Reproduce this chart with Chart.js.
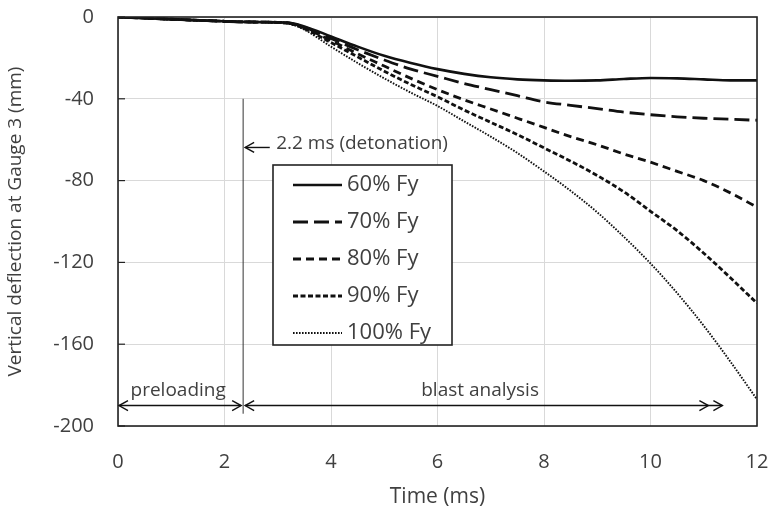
<!DOCTYPE html>
<html>
<head>
<meta charset="utf-8">
<script src="https://cdn.jsdelivr.net/npm/chart.js@4.4.0/dist/chart.umd.min.js"></script>
<style>
  body { margin: 0; background: #fff; }
</style>
</head>
<body>
<canvas id="deflChart" width="769" height="514"></canvas>
<script>
// DATA - vertical deflection at gauge 3 vs time

const time  = [0, 1, 2, 2.35, 3, 3.25, 3.5, 4, 4.5, 5, 5.5, 6, 6.5, 7, 7.5, 8, 8.5, 9, 9.5, 10, 10.5, 11, 11.5, 12];
const fy60  = [0, -1.1, -2.1, -2.4, -2.6, -3.0, -4.6, -9.5, -14.5, -19, -22.5, -25.5, -27.8, -29.5, -30.5, -31, -31.2, -31, -30.3, -29.8, -30, -30.5, -31, -31];
const fy70  = [0, -1.1, -2.1, -2.4, -2.6, -3.1, -5.0, -10.5, -16, -21, -25.5, -29, -32.5, -35.5, -38.5, -41.5, -43.2, -44.8, -46.5, -47.8, -48.8, -49.5, -50, -50.5];
const fy80  = [0, -1.1, -2.1, -2.4, -2.6, -3.2, -5.4, -11.5, -18, -24, -30, -35.5, -40.5, -45, -49.5, -54, -58.5, -62.5, -67, -71, -75.5, -80, -86, -93];
const fy90  = [0, -1.1, -2.1, -2.4, -2.7, -3.3, -5.7, -12.5, -19.5, -26.5, -33, -39, -45.5, -51.5, -57.5, -64, -70.5, -77.5, -85.5, -95, -104.5, -115.5, -127.5, -140];
const fy100 = [0, -1.2, -2.2, -2.5, -2.8, -3.6, -6.2, -14.5, -22.5, -30, -37, -43.5, -51, -58.5, -66.5, -75.5, -85, -95.5, -107.5, -120.5, -135, -151, -168.5, -187];

const seriesLabels = ['60% Fy', '70% Fy', '80% Fy', '90% Fy', '100% Fy'];
const xTicks = [0, 2, 4, 6, 8, 10, 12];
const yTicks = [0, -40, -80, -120, -160, -200];

const detonationTime = 2.35;   // where the marker line sits on the time axis
const blastEnd = 11.35;

const FONT = '"Open Sans", Lato, sans-serif';
const TXT = '#404040';

function pts(ys) {
    return time.map(function(t, i) { return {x: t, y: ys[i]}; });
}

var lineStyles = [
    {dash: [], width: 2.6},
    {dash: [15, 6], width: 2.8},
    {dash: [8, 5], width: 2.8},
    {dash: [5, 2.5], width: 2.8},
    {dash: [1.6, 1.4], width: 1.9}
];

var datasets = [fy60, fy70, fy80, fy90, fy100].map(function(ys, i) {
    return {
        label: seriesLabels[i],
        data: pts(ys),
        borderColor: '#111',
        borderWidth: lineStyles[i].width,
        borderDash: lineStyles[i].dash,
        pointRadius: 0,
        cubicInterpolationMode: 'monotone',
        fill: false
    };
});

// arrow helpers
function head(ctx, x, y, dir) {
    ctx.beginPath();
    ctx.moveTo(x - dir * 9, y - 5);
    ctx.lineTo(x, y);
    ctx.lineTo(x - dir * 9, y + 5);
    ctx.stroke();
}

// frame, inner y ticks, legend box, annotations
var extrasPlugin = {
    id: 'extras',
    afterDatasetsDraw: function(chart) {
        var ctx = chart.ctx;
        var a = chart.chartArea;
        var xs = chart.scales.x, ys = chart.scales.y;
        ctx.save();

        // plot frame
        ctx.strokeStyle = '#222';
        ctx.lineWidth = 1.6;
        ctx.strokeRect(a.left, a.top, a.right - a.left, a.bottom - a.top);

        ctx.lineWidth = 1.2;
        yTicks.forEach(function(v) {
            var py = ys.getPixelForValue(v);
            ctx.beginPath();
            ctx.moveTo(a.left, py);
            ctx.lineTo(a.left + 7, py);
            ctx.stroke();
        });

        // detonation marker
        var dx = xs.getPixelForValue(detonationTime);
        ctx.strokeStyle = '#333';
        ctx.lineWidth = 1;
        ctx.beginPath();
        ctx.moveTo(dx, ys.getPixelForValue(-40));
        ctx.lineTo(dx, ys.getPixelForValue(-194));
        ctx.stroke();

        ctx.strokeStyle = '#111';
        ctx.lineWidth = 1.4;
        var ay = ys.getPixelForValue(-63.8);
        var ax2 = xs.getPixelForValue(2.85);
        ctx.beginPath();
        ctx.moveTo(dx + 2, ay);
        ctx.lineTo(ax2, ay);
        ctx.stroke();
        head(ctx, dx + 2, ay, -1);

        ctx.fillStyle = TXT;
        ctx.font = '19px ' + FONT;
        ctx.textAlign = 'left';
        ctx.textBaseline = 'middle';
        ctx.fillText('2.2 ms (detonation)', xs.getPixelForValue(2.97), ay - 4);

        // phase arrows
        var by = ys.getPixelForValue(-190);
        var p0 = xs.getPixelForValue(0), p1 = dx - 2;
        ctx.beginPath();
        ctx.moveTo(p0 + 1, by);
        ctx.lineTo(p1, by);
        ctx.stroke();
        head(ctx, p0 + 1, by, -1);
        head(ctx, p1, by, 1);

        var b0 = dx + 2, b1 = xs.getPixelForValue(blastEnd);
        ctx.beginPath();
        ctx.moveTo(b0, by);
        ctx.lineTo(b1, by);
        ctx.stroke();
        head(ctx, b0, by, -1);
        head(ctx, b1, by, 1);
        head(ctx, b1 - 14, by, 1);

        ctx.textAlign = 'center';
        ctx.textBaseline = 'alphabetic';
        ctx.fillText('preloading', xs.getPixelForValue(1.13), by - 10);
        ctx.fillText('blast analysis', xs.getPixelForValue(6.8), by - 10);

        // legend
        var lx = 273, lt = 165, lw = 179, lh = 180;
        ctx.fillStyle = '#fff';
        ctx.fillRect(lx, lt, lw, lh);
        ctx.strokeStyle = '#222';
        ctx.lineWidth = 1.6;
        ctx.strokeRect(lx, lt, lw, lh);
        ctx.font = '22px ' + FONT;
        ctx.textAlign = 'left';
        ctx.textBaseline = 'middle';
        chart.data.datasets.forEach(function(ds, i) {
            var ry = lt + 20 + i * 37;
            ctx.strokeStyle = '#111';
            ctx.lineWidth = ds.borderWidth;
            ctx.setLineDash(ds.borderDash);
            ctx.beginPath();
            ctx.moveTo(lx + 20, ry);
            ctx.lineTo(lx + 69, ry);
            ctx.stroke();
            ctx.setLineDash([]);
            ctx.fillStyle = TXT;
            ctx.fillText(ds.label, lx + 74, ry);
        });

        ctx.restore();
    }
};

let ctx_line = document.getElementById('deflChart').getContext('2d');

let deflChart = new Chart(ctx_line, {
    type: 'line',
    data: {datasets: datasets},
    options: {
        responsive: false,
        animation: false,
        layout: {padding: {top: 17, right: 12, left: 0, bottom: 0}},
        plugins: {legend: {display: false}, tooltip: {enabled: false}},
        scales: {
            x: {
                type: 'linear',
                min: 0, max: 12,
                afterBuildTicks: function(s) { s.ticks = xTicks.map(function(v) { return {value: v}; }); },
                afterFit: function(s) { s.height = 88; s.paddingLeft = 0; s.paddingRight = 0; },
                grid: {color: '#d9d9d9', lineWidth: 1, drawTicks: false},
                border: {display: false},
                ticks: {color: TXT, font: {size: 20, family: FONT}, padding: 24},
                title: {display: true, text: 'Time (ms)', color: TXT,
                        font: {size: 21, family: FONT}, padding: {top: 4}}
            },
            y: {
                type: 'linear',
                min: -200, max: 0,
                afterBuildTicks: function(s) { s.ticks = yTicks.map(function(v) { return {value: v}; }); },
                afterFit: function(s) { s.width = 118; s.paddingTop = 0; s.paddingBottom = 0; },
                grid: {color: '#d9d9d9', lineWidth: 1, drawTicks: false},
                border: {display: false},
                ticks: {color: TXT, font: {size: 20, family: FONT}, padding: 24},
                title: {display: true, text: 'Vertical deflection at Gauge 3 (mm)', color: TXT,
                        font: {size: 19, family: FONT}, padding: {bottom: 4}}
            }
        }
    },
    plugins: [extrasPlugin]
});
</script>
</body>
</html>
